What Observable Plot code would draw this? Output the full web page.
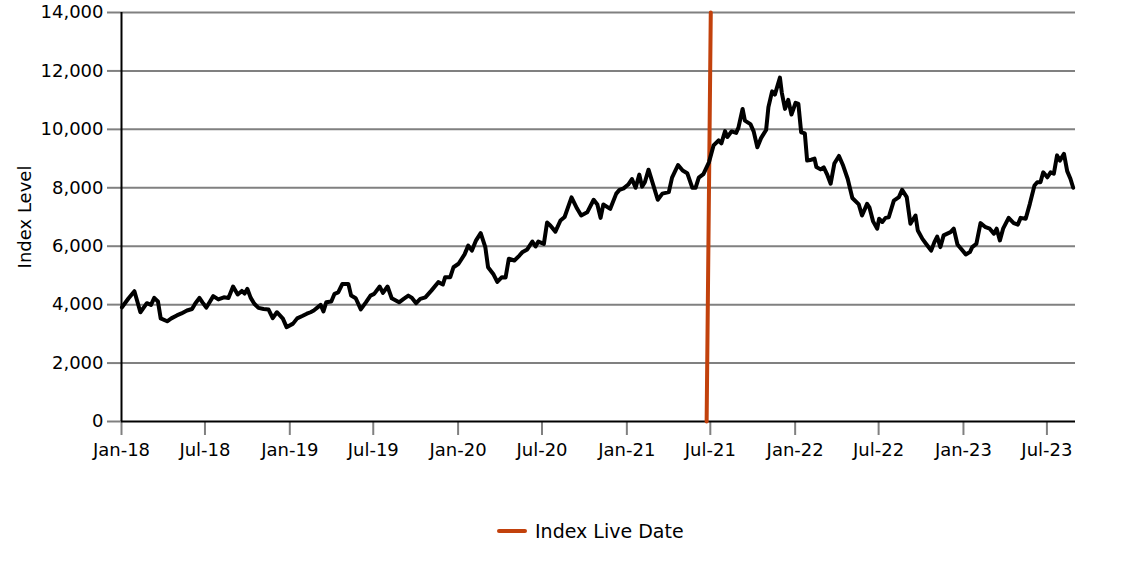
<!DOCTYPE html>
<html><head><meta charset="utf-8">
<script src="https://cdn.jsdelivr.net/npm/d3@7"></script>
<script src="https://cdn.jsdelivr.net/npm/@observablehq/plot@0.6"></script>
<style>
body{margin:0;background:#fff;font-family:"DejaVu Sans",sans-serif;}
#chart{position:relative;width:1146px;height:573px;overflow:hidden;}
#legend{position:absolute;left:497px;top:520px;height:22px;display:flex;align-items:center;font-size:19px;color:#000;white-space:nowrap;}
#legend .sw{width:30px;height:4px;background:#c2410c;border-radius:2px;margin-right:8px;}
</style></head><body>
<div id="chart"></div>
<script>
const dates = ["2018-01-02","2018-01-16","2018-01-29","2018-02-11","2018-02-25","2018-03-06","2018-03-13","2018-03-21","2018-03-27","2018-04-10","2018-04-19","2018-05-01","2018-05-11","2018-05-23","2018-06-03","2018-06-10","2018-06-19","2018-06-26","2018-07-04","2018-07-12","2018-07-19","2018-07-30","2018-08-11","2018-08-21","2018-08-31","2018-09-10","2018-09-19","2018-09-25","2018-10-01","2018-10-08","2018-10-16","2018-10-25","2018-11-05","2018-11-16","2018-11-25","2018-12-04","2018-12-17","2018-12-25","2019-01-08","2019-01-17","2019-01-28","2019-02-07","2019-02-15","2019-02-22","2019-03-05","2019-03-09","2019-03-15","2019-03-21","2019-04-01","2019-04-08","2019-04-16","2019-04-25","2019-05-08","2019-05-14","2019-05-24","2019-06-04","2019-06-15","2019-06-25","2019-07-03","2019-07-15","2019-07-22","2019-08-01","2019-08-10","2019-08-26","2019-09-05","2019-09-15","2019-09-23","2019-10-02","2019-10-11","2019-10-22","2019-11-04","2019-11-19","2019-11-29","2019-12-04","2019-12-15","2019-12-22","2020-01-02","2020-01-15","2020-01-23","2020-01-31","2020-02-09","2020-02-19","2020-02-29","2020-03-06","2020-03-18","2020-03-26","2020-04-05","2020-04-13","2020-04-20","2020-05-02","2020-05-13","2020-05-19","2020-05-30","2020-06-10","2020-06-17","2020-06-23","2020-07-05","2020-07-12","2020-07-19","2020-07-30","2020-08-10","2020-08-19","2020-09-03","2020-09-15","2020-09-24","2020-10-07","2020-10-21","2020-10-29","2020-11-05","2020-11-11","2020-11-26","2020-12-09","2020-12-16","2020-12-25","2021-01-04","2021-01-12","2021-01-20","2021-01-28","2021-02-03","2021-02-09","2021-02-17","2021-02-28","2021-03-09","2021-03-19","2021-04-02","2021-04-09","2021-04-22","2021-05-02","2021-05-12","2021-05-23","2021-05-30","2021-06-06","2021-06-16","2021-06-28","2021-07-08","2021-07-19","2021-07-25","2021-08-02","2021-08-07","2021-08-16","2021-08-26","2021-08-31","2021-09-09","2021-09-14","2021-09-26","2021-10-03","2021-10-11","2021-10-19","2021-10-30","2021-11-04","2021-11-12","2021-11-18","2021-11-29","2021-12-03","2021-12-10","2021-12-17","2021-12-24","2022-01-02","2022-01-08","2022-01-14","2022-01-22","2022-01-27","2022-02-05","2022-02-12","2022-02-16","2022-02-25","2022-03-04","2022-03-11","2022-03-19","2022-03-27","2022-04-06","2022-04-15","2022-04-25","2022-05-05","2022-05-19","2022-05-26","2022-06-06","2022-06-11","2022-06-19","2022-06-28","2022-07-02","2022-07-09","2022-07-16","2022-07-23","2022-08-03","2022-08-14","2022-08-21","2022-08-31","2022-09-08","2022-09-19","2022-09-24","2022-10-04","2022-10-13","2022-10-23","2022-10-30","2022-11-05","2022-11-12","2022-11-19","2022-11-27","2022-12-04","2022-12-11","2022-12-19","2022-12-30","2023-01-06","2023-01-15","2023-01-20","2023-01-29","2023-02-07","2023-02-18","2023-02-27","2023-03-08","2023-03-14","2023-03-21","2023-03-28","2023-04-09","2023-04-20","2023-04-29","2023-05-05","2023-05-16","2023-05-25","2023-06-04","2023-06-10","2023-06-17","2023-06-23","2023-07-02","2023-07-09","2023-07-16","2023-07-23","2023-07-29","2023-08-07","2023-08-14","2023-08-21","2023-08-27"];
const values = [3910,4210,4460,3740,4050,3990,4230,4110,3530,3430,3530,3630,3700,3800,3850,4040,4230,4070,3900,4110,4290,4180,4250,4230,4620,4350,4470,4380,4540,4240,4030,3890,3850,3830,3540,3740,3520,3230,3350,3530,3610,3690,3740,3800,3940,3990,3770,4080,4110,4370,4420,4710,4710,4310,4220,3840,4080,4310,4370,4620,4400,4620,4220,4080,4200,4310,4230,4050,4200,4250,4480,4770,4690,4940,4940,5280,5400,5720,6020,5850,6200,6450,5970,5280,5030,4780,4940,4930,5570,5510,5680,5790,5890,6160,5990,6160,6080,6810,6710,6500,6880,7000,7670,7290,7050,7160,7590,7430,6970,7430,7280,7800,7930,7980,8110,8300,8000,8450,8040,8190,8620,8060,7590,7800,7850,8350,8780,8590,8500,8000,8000,8350,8470,8870,9450,9620,9520,9940,9740,9930,9880,10060,10700,10300,10180,9930,9390,9700,9980,10760,11300,11190,11770,11260,10700,11010,10510,10910,10870,9900,9860,8930,8960,9000,8710,8630,8700,8470,8140,8830,9090,8760,8300,7650,7430,7050,7450,7330,6850,6600,6940,6830,6970,6990,7560,7680,7930,7680,6770,7050,6540,6250,6060,5850,6140,6330,5970,6370,6430,6480,6600,6060,5850,5720,5800,5970,6080,6790,6650,6600,6430,6600,6200,6600,6970,6790,6740,6970,6940,7450,8080,8190,8190,8530,8360,8530,8480,9110,8930,9160,8570,8310,8000];
const liveDates = ["2021-06-23","2021-07-02"];
const liveValues = [0,14000];
const liveLabel = "Index Live Date";
const yTicks = [0,2000,4000,6000,8000,10000,12000,14000];
const xTicks = ["2018-01-01","2018-07-01","2019-01-01","2019-07-01","2020-01-01","2020-07-01","2021-01-01","2021-07-01","2022-01-01","2022-07-01","2023-01-01","2023-07-01"];
const xDomain = ["2018-01-01","2023-09-01"];
const yLabel = "Index Level";

const series = dates.map((d,i)=>({date:new Date(d+"T00:00:00Z"), value:values[i]}));
const live = liveDates.map((d,i)=>({date:new Date(d+"T00:00:00Z"), value:liveValues[i]}));
const fmt = d3.utcFormat("%b-%y");
const x0 = new Date(xDomain[0]+"T00:00:00Z");

const chart = Plot.plot({
  width:1146, height:470,
  marginLeft:121, marginRight:71, marginTop:12, marginBottom:49,
  style:{fontFamily:"DejaVu Sans, sans-serif", fontSize:"18px", color:"#000", background:"#fff", overflow:"visible"},
  x:{type:"utc", domain:xDomain.map(d=>new Date(d+"T00:00:00Z"))},
  y:{domain:[0,14000]},
  marks:[
    Plot.ruleY(yTicks.filter(v=>v>0), {stroke:"#808080", strokeWidth:2}),
    Plot.axisY({ticks:yTicks, tickSize:14, tickPadding:4, stroke:"#808080", strokeWidth:2, fill:"#000", tickFormat:d3.format(","), label:yLabel, labelAnchor:"center", labelOffset:103, labelArrow:false}),
    Plot.axisX({ticks:xTicks.map(d=>new Date(d+"T00:00:00Z")), tickSize:14, tickPadding:8, stroke:"#808080", strokeWidth:2, fill:"#000", tickFormat:fmt, label:null}),
    Plot.ruleX([x0], {stroke:"#000", strokeWidth:2, y1:0, y2:14000}),
    Plot.ruleY([0], {stroke:"#000", strokeWidth:2}),
    Plot.line(live, {x:"date", y:"value", stroke:"#c2410c", strokeWidth:4, strokeLinecap:"round"}),
    Plot.line(series, {x:"date", y:"value", stroke:"#000", strokeWidth:4, strokeLinejoin:"round", curve:"linear"})
  ]
});
const root = document.getElementById("chart");
root.appendChild(chart);
const lg = document.createElement("div");
lg.id = "legend";
lg.innerHTML = '<span class="sw"></span><span></span>';
lg.lastChild.textContent = liveLabel;
root.appendChild(lg);
</script>
</body></html>
